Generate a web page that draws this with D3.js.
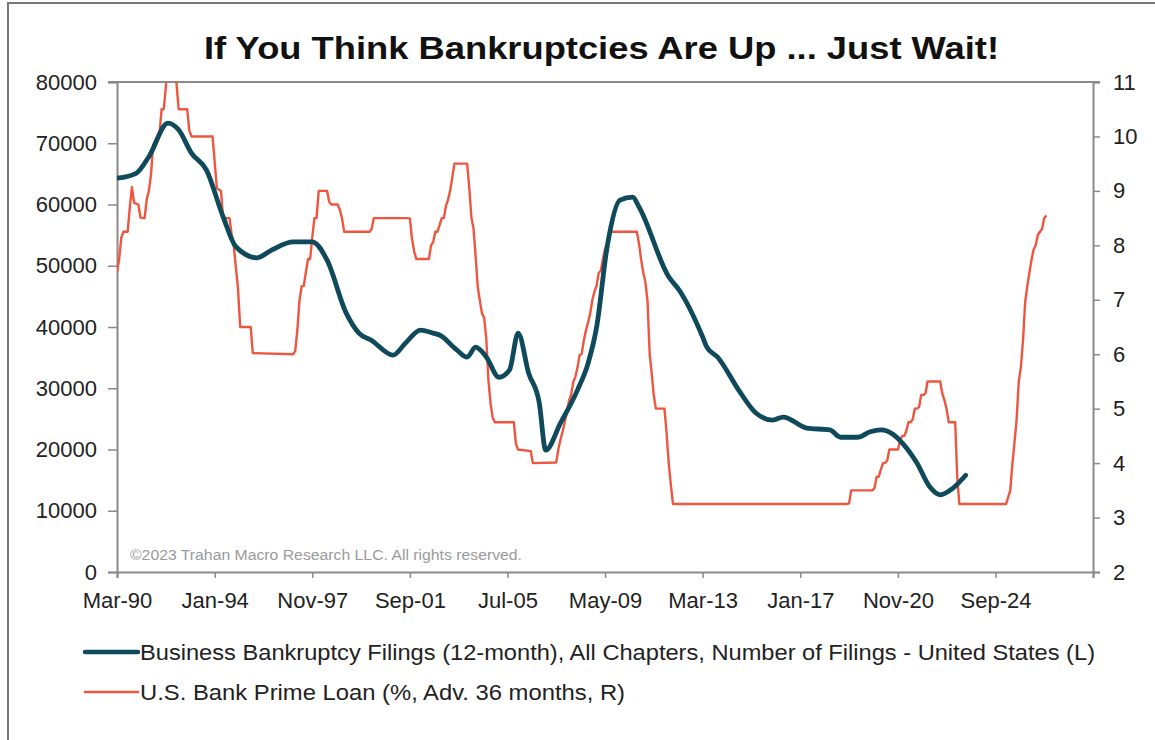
<!DOCTYPE html>
<html>
<head>
<meta charset="utf-8">
<script src="https://cdn.jsdelivr.net/npm/d3@7.9.0/dist/d3.min.js"></script>
<style>
  body { margin: 0; background: #fff; }
  svg { display: block; font-family: "Liberation Sans", Arial, sans-serif; }
</style>
</head>
<body>
<svg id="chart" width="1155" height="740"></svg>
<script>
// business bankruptcy filings, 12-month sum (left axis)
const bkDates = ['1990-03','1990-12','1991-06','1992-03','1992-08','1993-02','1993-09','1994-05','1994-11',
  '1995-09','1996-04','1997-02','1997-11','1998-06','1999-03','1999-09','2000-03','2001-01','2001-07',
  '2002-02','2002-08','2002-11','2003-07','2003-12','2004-04','2004-09','2005-03','2005-08','2005-12',
  '2006-05','2006-10','2007-01','2007-08','2008-04','2008-09','2009-01','2009-06','2009-12','2010-06',
  '2010-09','2011-11','2012-04','2013-03','2013-05','2013-10','2014-08','2015-04','2015-12','2016-05',
  '2017-04','2018-03','2018-08','2019-04','2019-10','2020-03','2020-09','2021-01','2021-08','2022-02',
  '2022-07','2023-01','2023-07'];
const bkValues = [64300,65100,67800,73300,72200,68400,65700,58000,53100,
  51300,52600,53900,53900,50900,42300,39000,37800,35400,37400,
  39500,39000,38700,36300,35100,36700,35100,31800,33000,39000,
  32500,27600,19900,24300,29700,34100,40000,53100,60700,61200,
  59600,48200,46000,38400,36700,35100,29700,26000,24800,25300,
  23500,23200,22000,22000,22900,23200,22400,21100,17800,13900,
  12600,13700,15800];

// prime loan rate, advanced 36 months (right axis)
const primeDates = ['1990-03','1990-04','1990-05','1990-06','1990-08','1990-09','1990-10','1990-11','1991-01',
  '1991-02','1991-04','1991-05','1991-06','1991-07','1991-08','1991-10','1991-11','1991-12','1992-01',
  '1992-02','1992-03','1992-05','1992-06','1992-07','1992-08','1992-12','1993-01','1993-02','1993-12',
  '1994-01','1994-02','1994-04','1994-05','1994-08','1994-09','1994-10','1994-11','1994-12','1995-01',
  '1995-06','1995-07','1997-02','1997-03','1997-04','1997-05','1997-06','1997-07','1997-08','1997-09',
  '1997-10','1997-11','1997-12','1998-01','1998-02','1998-06','1998-07','1998-08','1998-11','1998-12',
  '1999-01','1999-02','2000-02','2000-03','2000-04','2001-08','2001-09','2001-10','2001-11','2001-12',
  '2002-06','2002-07','2002-08','2002-09','2002-10','2002-11','2002-12','2003-01','2003-02','2003-03',
  '2003-04','2003-05','2003-06','2003-12','2004-01','2004-02','2004-03','2004-04','2004-05','2004-06',
  '2004-07','2004-08','2004-09','2004-10','2004-11','2004-12','2005-01','2005-10','2005-11','2005-12',
  '2006-06','2006-07','2007-06','2007-07','2007-08','2007-09','2007-10','2007-11','2007-12','2008-01',
  '2008-02','2008-03','2008-04','2008-05','2008-06','2008-07','2008-08','2008-09','2008-10','2008-11',
  '2008-12','2009-01','2009-02','2009-03','2009-04','2009-05','2009-06','2009-07','2010-08','2010-09',
  '2010-10','2010-11','2010-12','2011-01','2011-02','2011-03','2011-04','2011-05','2011-09','2011-10',
  '2011-11','2011-12','2012-01','2018-11','2018-12','2019-01','2019-11','2019-12','2020-01','2020-02',
  '2020-03','2020-04','2020-05','2020-06','2020-07','2020-11','2020-12','2021-01','2021-02','2021-03',
  '2021-04','2021-05','2021-06','2021-07','2021-08','2021-09','2021-10','2021-11','2021-12','2022-01',
  '2022-07','2022-08','2022-09','2022-10','2022-11','2023-02','2023-03','2023-04','2025-02','2025-03',
  '2025-04','2025-05','2025-06','2025-07','2025-08','2025-09','2025-10','2025-11','2025-12','2026-01',
  '2026-02','2026-03','2026-04','2026-05','2026-06','2026-07','2026-08','2026-09'];
const primeValues = [7.5,7.75,8.14,8.25,8.25,8.7,9.07,8.78,8.75,
  8.51,8.5,8.84,9.0,9.29,9.84,10.0,10.05,10.5,10.5,
  10.93,11.5,11.5,11.07,10.98,10.5,10.5,10.11,10.0,10.0,
  9.52,9.05,9.0,8.5,8.5,8.2,8.0,7.58,7.21,6.5,
  6.5,6.02,6.0,6.06,6.45,6.99,7.25,7.25,7.51,7.75,
  7.75,8.15,8.5,8.5,9.0,9.0,8.8,8.75,8.75,8.65,
  8.5,8.25,8.25,8.3,8.5,8.5,8.49,8.12,7.89,7.75,
  7.75,8.0,8.06,8.25,8.25,8.37,8.5,8.5,8.73,8.83,
  9.0,9.24,9.5,9.5,9.05,8.5,8.32,7.8,7.24,6.98,
  6.75,6.67,6.28,5.53,5.1,4.84,4.75,4.75,4.35,4.25,
  4.22,4.0,4.01,4.25,4.43,4.58,4.75,4.93,5.15,5.25,
  5.49,5.58,5.75,5.98,6.01,6.25,6.44,6.59,6.75,7.0,
  7.15,7.26,7.5,7.53,7.75,7.93,8.02,8.25,8.25,8.03,
  7.74,7.5,7.33,6.98,6.0,5.66,5.24,5.0,5.0,4.56,
  4.0,3.61,3.25,3.25,3.26,3.5,3.5,3.54,3.75,3.75,
  3.88,4.0,4.0,4.05,4.25,4.25,4.4,4.5,4.5,4.59,
  4.75,4.75,4.8,5.0,5.0,5.03,5.25,5.25,5.28,5.5,
  5.5,5.27,5.15,4.99,4.75,4.75,3.78,3.25,3.25,3.37,
  3.5,3.98,4.38,4.8,5.5,5.77,6.25,6.96,7.25,7.5,
  7.74,7.92,8.0,8.19,8.25,8.3,8.5,8.55];

const leftTicks = [0,10000,20000,30000,40000,50000,60000,70000,80000];
const rightTicks = [2,3,4,5,6,7,8,9,10,11];
const xTickDates = ['1990-03','1994-01','1997-11','2001-09','2005-07','2009-05','2013-03','2017-01','2020-11','2024-09','2028-07'];

const titleText = 'If You Think Bankruptcies Are Up ... Just Wait!';
const bkLabel = 'Business Bankruptcy Filings (12-month), All Chapters, Number of Filings - United States (L)';
const primeLabel = 'U.S. Bank Prime Loan (%, Adv. 36 months, R)';
const noteText = '\u00a92023 Trahan Macro Research LLC. All rights reserved.';

const parse = d3.timeParse('%Y-%m');
const fmt = d3.timeFormat('%b-%y');
const teal = '#0f4a5c';
const red = '#ef5640';
const axisGray = '#8a8a8a';

const svg = d3.select('#chart');
const plotLeft = 117, plotRight = 1093, plotTop = 82, plotBottom = 572;

const x = d3.scaleTime().domain([parse('1990-03'), parse('2028-07')]).range([plotLeft, plotRight]);
const yL = d3.scaleLinear().domain([0, 80000]).range([plotBottom, plotTop]);
const yR = d3.scaleLinear().domain([2, 11]).range([plotBottom, plotTop]);

// outer frame
svg.append('rect').attr('x', 8).attr('y', 3).attr('width', 1160).attr('height', 760)
  .attr('fill', 'none').attr('stroke', '#777').attr('stroke-width', 2);

// title (condensed bold, like the original)
svg.append('text').attr('x', 204).attr('y', 59)
  .attr('font-size', 32).attr('font-weight', 'bold').attr('fill', '#111')
  .attr('textLength', 795).attr('lengthAdjust', 'spacingAndGlyphs')
  .text(titleText);

// clip for lines
svg.append('clipPath').attr('id', 'plotclip')
  .append('rect').attr('x', plotLeft).attr('y', plotTop)
  .attr('width', plotRight - plotLeft).attr('height', plotBottom - plotTop);

// axes
const axLeft = svg.append('g').attr('transform', `translate(${plotLeft},0)`)
  .call(d3.axisLeft(yL).tickValues(leftTicks).tickSize(9).tickPadding(11).tickFormat(d3.format('d')));
const axRight = svg.append('g').attr('transform', `translate(${plotRight},0)`)
  .call(d3.axisRight(yR).tickValues(rightTicks).tickSize(7).tickPadding(13));
const axBottom = svg.append('g').attr('transform', `translate(0,${plotBottom})`)
  .call(d3.axisBottom(x).tickValues(xTickDates.map(parse)).tickSize(6).tickPadding(10)
    .tickFormat((d, i) => i < xTickDates.length - 1 ? fmt(d) : ''));

[axLeft, axRight, axBottom].forEach(g => {
  g.select('.domain').attr('stroke', axisGray).attr('stroke-width', 2);
  g.selectAll('.tick line').attr('stroke', axisGray).attr('stroke-width', 1.5);
  g.selectAll('text').attr('font-size', 22).attr('fill', '#222')
    .attr('font-family', '"Liberation Sans", Arial, sans-serif');
});
axBottom.selectAll('text').attr('dy', '0.9em');

// top border of plot
svg.append('line').attr('x1', plotLeft - 9).attr('x2', plotRight + 7)
  .attr('y1', plotTop).attr('y2', plotTop)
  .attr('stroke', axisGray).attr('stroke-width', 2);

// watermark
svg.append('text').attr('x', 130).attr('y', 560)
  .attr('font-size', 14).attr('fill', '#9a9a9a')
  .attr('textLength', 392).attr('lengthAdjust', 'spacingAndGlyphs')
  .text(noteText);

const bk = bkDates.map((d, i) => ({ date: parse(d), value: bkValues[i] }));
const prime = primeDates.map((d, i) => ({ date: parse(d), value: primeValues[i] }));

const plot = svg.append('g').attr('clip-path', 'url(#plotclip)');

plot.append('path').datum(prime)
  .attr('d', d3.line().x(d => x(d.date)).y(d => yR(d.value)))
  .attr('fill', 'none').attr('stroke', red).attr('stroke-width', 2.4)
  .attr('stroke-linejoin', 'round');

plot.append('path').datum(bk)
  .attr('d', d3.line().curve(d3.curveMonotoneX).x(d => x(d.date)).y(d => yL(d.value)))
  .attr('fill', 'none').attr('stroke', teal).attr('stroke-width', 4.8)
  .attr('stroke-linejoin', 'round').attr('stroke-linecap', 'round');

// legend
const legendItems = [
  { label: bkLabel, color: teal, width: 4.5, y: 652, len: 955 },
  { label: primeLabel, color: red, width: 2.5, y: 692, len: 485 }
];
const lg = svg.append('g').selectAll('g').data(legendItems).join('g');
lg.append('line').attr('x1', 85).attr('x2', 138)
  .attr('y1', d => d.y).attr('y2', d => d.y)
  .attr('stroke', d => d.color).attr('stroke-width', d => d.width).attr('stroke-linecap', 'round');
lg.append('text').attr('x', 140).attr('y', d => d.y + 8)
  .attr('font-size', 22).attr('fill', '#222')
  .attr('textLength', d => d.len).attr('lengthAdjust', 'spacingAndGlyphs')
  .text(d => d.label);
</script>
</body>
</html>
